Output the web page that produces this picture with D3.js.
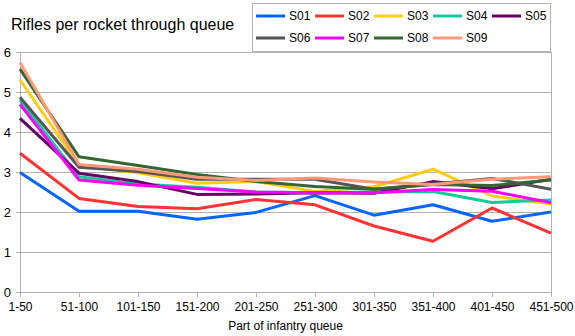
<!DOCTYPE html>
<html>
<head>
<meta charset="utf-8">
<script src="https://cdn.jsdelivr.net/npm/d3@7"></script>
<style>
  body { margin: 0; background: #fff; }
  text { font-family: "Liberation Sans", Arial, sans-serif; fill: #000; }
</style>
</head>
<body>
<div id="chart"></div>
<script>
var categories = ["1-50", "51-100", "101-150", "151-200", "201-250", "251-300", "301-350", "351-400", "401-450", "451-500"];
var seriesNames = ["S01", "S02", "S03", "S04", "S05", "S06", "S07", "S08", "S09"];
var S01 = [2.99, 2.02, 2.02, 1.82, 1.99, 2.41, 1.92, 2.18, 1.77, 2.00];
var S02 = [3.47, 2.34, 2.14, 2.08, 2.31, 2.18, 1.65, 1.27, 2.10, 1.47];
var S03 = [5.30, 3.16, 2.98, 2.72, 2.76, 2.51, 2.63, 3.07, 2.40, 2.20];
var S04 = [4.80, 2.88, 2.70, 2.62, 2.50, 2.48, 2.50, 2.51, 2.24, 2.30];
var S05 = [4.34, 2.97, 2.76, 2.44, 2.45, 2.48, 2.47, 2.76, 2.58, 2.82];
var S06 = [4.87, 3.12, 3.01, 2.82, 2.82, 2.82, 2.57, 2.70, 2.84, 2.57];
var S07 = [4.69, 2.80, 2.67, 2.59, 2.50, 2.48, 2.48, 2.56, 2.52, 2.23];
var S08 = [5.57, 3.38, 3.16, 2.94, 2.76, 2.64, 2.57, 2.69, 2.66, 2.80];
var S09 = [5.74, 3.19, 3.07, 2.87, 2.79, 2.85, 2.75, 2.69, 2.82, 2.88];
var yTicks = [0, 1, 2, 3, 4, 5, 6];

var seriesValues = [S01, S02, S03, S04, S05, S06, S07, S08, S09];
var colors = ["#0066ff", "#ff3333", "#ffcc11", "#11cc99", "#660066", "#555555", "#ff00ff", "#336633", "#ff9977"];

var width = 575, height = 336;
var plotLeft = 20, plotRight = 551, plotTop = 52, plotBottom = 292;

var svg = d3.select("#chart").append("svg")
  .attr("width", width)
  .attr("height", height);

var x = d3.scalePoint().domain(categories).range([plotLeft, plotRight]);
var y = d3.scaleLinear().domain([0, 6]).range([plotBottom, plotTop]);

// gridlines
svg.append("g").selectAll("line")
  .data(yTicks.filter(function(d) { return d > 0; }))
  .enter().append("line")
  .attr("x1", plotLeft).attr("x2", plotRight)
  .attr("y1", function(d) { return y(d) + 0.5; })
  .attr("y2", function(d) { return y(d) + 0.5; })
  .attr("stroke", "#b3b3b3")
  .attr("stroke-width", 1);

// right border
svg.append("line")
  .attr("x1", plotRight + 0.5).attr("x2", plotRight + 0.5)
  .attr("y1", plotTop).attr("y2", plotBottom)
  .attr("stroke", "#b3b3b3");

// x axis
var xAxis = svg.append("g")
  .attr("transform", "translate(0," + plotBottom + ")")
  .call(d3.axisBottom(x).tickSize(5).tickPadding(5));
xAxis.select(".domain").attr("stroke", "#b3b3b3");
xAxis.selectAll(".tick line").attr("stroke", "#b3b3b3");
xAxis.selectAll("text").attr("font-size", 12).style("font-family", "Liberation Sans, Arial, sans-serif");

// y axis
var yAxis = svg.append("g")
  .attr("transform", "translate(" + plotLeft + ",0)")
  .call(d3.axisLeft(y).tickValues(yTicks).tickSize(4).tickPadding(5).tickFormat(d3.format("d")));
yAxis.select(".domain").attr("stroke", "#b3b3b3");
yAxis.selectAll(".tick line").attr("stroke", "#b3b3b3");
yAxis.selectAll("text").attr("font-size", 13).style("font-family", "Liberation Sans, Arial, sans-serif");

// lines
var line = d3.line()
  .x(function(d, i) { return x(categories[i]); })
  .y(function(d) { return y(d); });

svg.append("g").selectAll("path")
  .data(seriesValues)
  .enter().append("path")
  .attr("d", line)
  .attr("fill", "none")
  .attr("stroke", function(d, i) { return colors[i]; })
  .attr("stroke-width", 3)
  .attr("stroke-linejoin", "round");

// title
svg.append("text")
  .attr("x", 11)
  .attr("y", 30)
  .attr("font-size", 16)
  .text("Rifles per rocket through queue");

// axis title
svg.append("text")
  .attr("x", (plotLeft + plotRight) / 2)
  .attr("y", 330)
  .attr("text-anchor", "middle")
  .attr("font-size", 12)
  .text("Part of infantry queue");

// legend
var legend = svg.append("g");
legend.append("rect")
  .attr("x", 252.5).attr("y", 3.5)
  .attr("width", 298).attr("height", 48)
  .attr("fill", "#fff")
  .attr("stroke", "#b3b3b3");

var item = legend.selectAll("g.item")
  .data(seriesNames)
  .enter().append("g")
  .attr("class", "item")
  .attr("transform", function(d, i) {
    return "translate(" + (256 + (i % 5) * 59) + "," + (i < 5 ? 16 : 38) + ")";
  });
item.append("line")
  .attr("x1", 0).attr("x2", 29)
  .attr("stroke", function(d, i) { return colors[i]; })
  .attr("stroke-width", 3);
item.append("text")
  .attr("x", 33)
  .attr("dy", "0.35em")
  .attr("font-size", 12)
  .text(function(d) { return d; });
</script>
</body>
</html>
